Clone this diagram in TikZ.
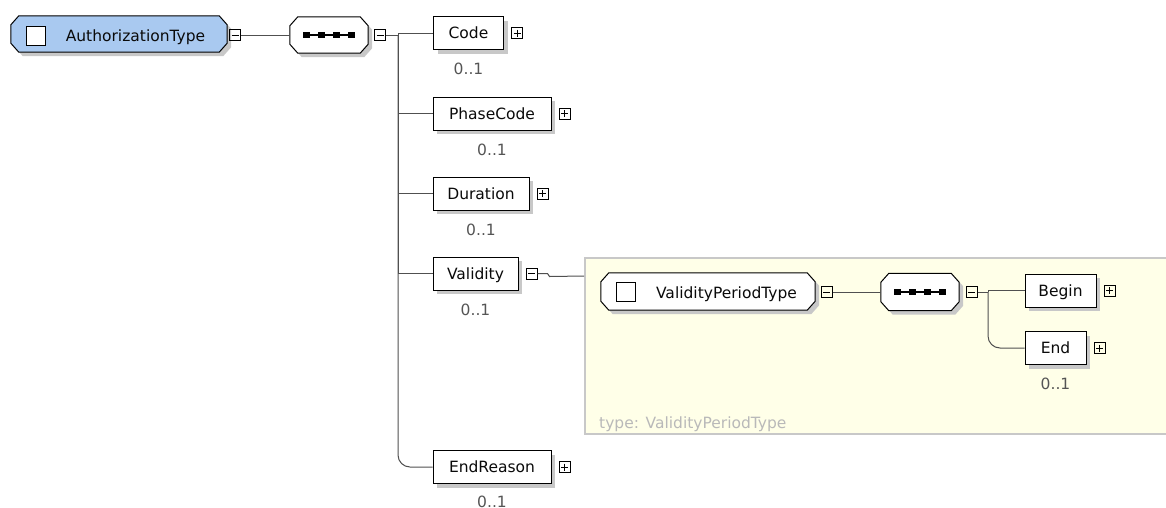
\documentclass[tikz,border=0pt]{standalone}
\usepackage{fontspec}
\setmainfont{DejaVu Sans}
\usetikzlibrary{shadows,calc}
\definecolor{authblue}{RGB}{169,201,240}
\definecolor{typeyellow}{RGB}{255,255,232}
\definecolor{typeborder}{RGB}{200,200,200}
\definecolor{lblgray}{RGB}{85,85,85}
\definecolor{typegray}{RGB}{185,185,185}
\definecolor{linegray}{RGB}{80,80,80}
\definecolor{shadowgray}{RGB}{200,200,200}
\definecolor{txtcol}{RGB}{10,10,10}
\newcommand{\octpts}[1]{([xshift=8pt]#1.north west) -- ([xshift=-8pt]#1.north east) -- ([yshift=-9pt]#1.north east) -- ([yshift=9pt]#1.south east) -- ([xshift=-8pt]#1.south east) -- ([xshift=8pt]#1.south west) -- ([yshift=9pt]#1.south west) -- ([yshift=-9pt]#1.north west) -- cycle}
\newcommand{\octdraw}[2]{\draw[line width=1pt, fill=#2, shad] \octpts{#1};}
\newcommand{\minusglyph}[1]{\draw[line width=1pt] ([xshift=2.5pt]#1.west) -- ([xshift=-2.5pt]#1.east);}
\newcommand{\plusglyph}[1]{\minusglyph{#1}\draw[line width=1pt] ([yshift=-2.5pt]#1.north) -- ([yshift=2.5pt]#1.south);}
\newcommand{\seqglyph}[1]{\draw[line width=1.5pt] ([xshift=-25pt]#1.center) -- ([xshift=25pt]#1.center);
  \foreach \d in {-22.5,-7.5,7.5,22.5} {\fill ([xshift=\d pt-3.2pt, yshift=-3.2pt]#1.center) rectangle ([xshift=\d pt+3.2pt, yshift=3.2pt]#1.center);}}
\begin{document}
\begin{tikzpicture}[x=1pt,y=-1pt,
  font=\fontsize{15.5}{18}\selectfont,
  shad/.style={general shadow={fill=shadowgray, shadow xshift=4pt, shadow yshift=-4pt}},
  elem/.style={draw=black, line width=1pt, fill=white, rectangle, minimum height=33pt, inner sep=0pt, text=txtcol, text height=11.5pt, text depth=0pt, shad},
  octpos/.style={rectangle, draw=none, inner sep=0pt},
  tog/.style={draw=black, line width=1pt, rectangle, minimum size=11pt, inner sep=0pt},
  lbl/.style={text=lblgray, inner sep=0pt},
  conn/.style={draw=linegray, line width=1pt},
  chk/.style={draw=black, line width=1pt, fill=white, minimum size=19pt, inner sep=0pt}
]
\useasboundingbox (0,0) rectangle (1166,507);
\clip (0,0) rectangle (1166,507);
\fill[white] (0,0) rectangle (1166,507);

% type box
\node[draw=typeborder, line width=1.5pt, fill=typeyellow, minimum width=600pt, minimum height=176pt, anchor=north west, inner sep=0pt] (vbox) at (584,257) {};
\node[text=typegray, anchor=base west, inner sep=0pt] (vtypelbl) at (599,428) {type: ValidityPeriodType};

% root
\node[octpos, minimum width=216pt, minimum height=36pt] (auth) at (119,34) {};
\octdraw{auth}{authblue}
\node[chk] (authchk) at (36,35.5) {};
\node[anchor=base, inner sep=0pt, text=txtcol] (authtxt) at (135.5,41) {AuthorizationType};
\node[tog] (m1) at (235,35) {}; \minusglyph{m1}
\node[octpos, minimum width=78pt, minimum height=36pt] (seq1) at (329,35) {};
\octdraw{seq1}{white}
\seqglyph{seq1}
\node[tog] (m2) at (380,35) {}; \minusglyph{m2}
\coordinate (trunk) at (398,35);

% children
\node[elem, minimum width=70pt] (code) at (468.5,33) {Code};
\node[elem, minimum width=118pt] (phase) at (492,113.5) {PhaseCode};
\node[elem, minimum width=96pt] (dur) at (481,193.5) {Duration};
\node[elem, minimum width=85pt] (valid) at (475.5,273.5) {Validity};
\node[elem, minimum width=118pt] (endr) at (492,467) {EndReason};

\node[tog] (codep) at ($(code.east)+(13,0)$) {}; \plusglyph{codep}
\node[tog] (phasep) at ($(phase.east)+(13,0)$) {}; \plusglyph{phasep}
\node[tog] (durp) at ($(dur.east)+(13,0)$) {}; \plusglyph{durp}
\node[tog] (validm) at ($(valid.east)+(13,0)$) {}; \minusglyph{validm}
\node[tog] (endrp) at ($(endr.east)+(13,0)$) {}; \plusglyph{endrp}

\node[lbl] (codel) at ($(code.south)+(0,19)$) {0..1};
\node[lbl] (phasel) at ($(phase.south)+(0,19)$) {0..1};
\node[lbl] (durl) at ($(dur.south)+(0,19)$) {0..1};
\node[lbl] (validl) at ($(valid.south)+(0,19)$) {0..1};
\node[lbl] (endrl) at ($(endr.south)+(0,18)$) {0..1};

\draw[conn] (m1.east) -- (seq1.west);
\draw[conn] (m2.east) -- (trunk);
\draw[conn] (trunk) |- (code.west);
\draw[conn] (trunk) |- (phase.west);
\draw[conn] (trunk) |- (dur.west);
\draw[conn] (trunk) |- (valid.west);
\draw[conn, rounded corners=12pt] (trunk) |- (endr.west);

\coordinate (vin) at ($(vbox.north west)+(0,19)$);
\draw[conn] (validm.east) -- ++(10,0) -- ++(2,3) -- (vin);

% ValidityPeriodType
\node[octpos, minimum width=214pt, minimum height=37pt] (vpt) at (708,291.5) {};
\octdraw{vpt}{white}
\node[chk] (vptchk) at (625.5,292) {};
\node[anchor=base, inner sep=0pt, text=txtcol] (vpttxt) at (726.5,298) {ValidityPeriodType};
\node[tog] (m3) at (826.5,292) {}; \minusglyph{m3}
\node[octpos, minimum width=78pt, minimum height=37pt] (seq2) at (920,292) {};
\octdraw{seq2}{white}
\seqglyph{seq2}
\node[tog] (m4) at (971.5,292) {}; \minusglyph{m4}
\coordinate (trunk2) at (988,292);

\node[elem, minimum width=71pt] (begin) at (1060.5,290.5) {Begin};
\node[elem, minimum width=61pt] (end) at (1055.5,348) {End};
\node[tog] (beginp) at ($(begin.east)+(13,0)$) {}; \plusglyph{beginp}
\node[tog] (endp) at ($(end.east)+(13,0)$) {}; \plusglyph{endp}
\node[lbl] (endl) at ($(end.south)+(0,19)$) {0..1};

\draw[conn] (m3.east) -- (seq2.west);
\draw[conn] (m4.east) -- (trunk2);
\draw[conn] (trunk2) |- (begin.west);
\draw[conn, rounded corners=12pt] (trunk2) |- (end.west);
\end{tikzpicture}
\end{document}
